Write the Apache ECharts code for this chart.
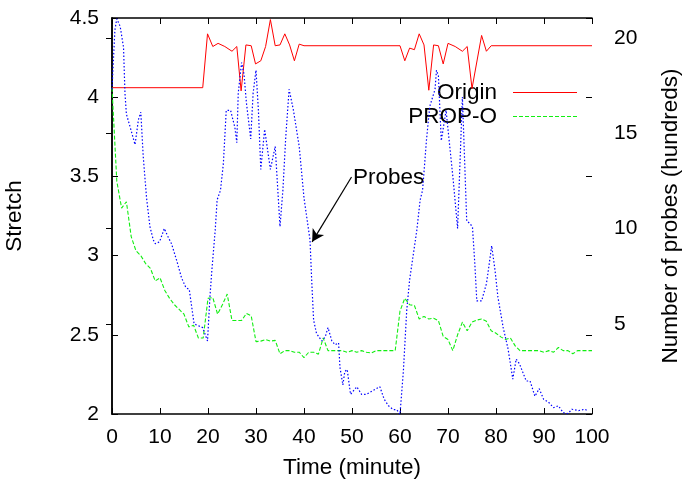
<!DOCTYPE html>
<html>
<head>
<meta charset="utf-8">
<script src="https://cdn.jsdelivr.net/npm/echarts@6/dist/echarts.min.js"></script>
<style>
  html, body { margin: 0; padding: 0; background: #fff; }
  #chart { width: 689px; height: 487px; }
</style>
</head>
<body>
<div id="chart"></div>
<script>
// tick labels
const stretchTicks = [2, 2.5, 3, 3.5, 4, 4.5];
const probeTicks = [5, 10, 15, 20];

// Origin (stretch)
const originTime = [0, 18.9, 19.9, 21, 22.1, 23.5, 25, 26, 26.9, 27.9, 29, 29.9, 31, 32, 33, 34, 35, 36, 37, 38,
  39, 40, 60, 61, 62, 63, 64, 65, 66, 67, 68, 69, 70, 71.5, 73, 74, 75, 77, 78, 79, 100];
const originStretch = [4.06, 4.06, 4.40, 4.32, 4.34, 4.32, 4.29, 4.32, 4.04, 4.33, 4.325, 4.21, 4.23, 4.32, 4.49, 4.325, 4.33, 4.40, 4.33, 4.23,
  4.335, 4.325, 4.325, 4.23, 4.31, 4.30, 4.40, 4.33, 4.044, 4.33, 4.325, 4.21, 4.34, 4.32, 4.29, 4.32, 4.055, 4.39, 4.29, 4.325, 4.325];

// PROP-O (stretch), one sample per minute 0..100
const propMinutes = Array.from({ length: 101 }, (_, i) => i);
const propStretch = [
  4.06, 3.47, 3.30, 3.34, 3.12, 3.03, 3.00, 2.95, 2.92, 2.84,
  2.86, 2.78, 2.73, 2.69, 2.66, 2.63, 2.55, 2.56, 2.48, 2.48,
  2.73, 2.735, 2.63, 2.69, 2.757, 2.59, 2.59, 2.59, 2.635, 2.62,
  2.457, 2.46, 2.47, 2.46, 2.465, 2.38, 2.40, 2.40, 2.39, 2.39,
  2.356, 2.39, 2.39, 2.378, 2.48, 2.40, 2.40, 2.40, 2.40, 2.39,
  2.40, 2.39, 2.40, 2.39, 2.385, 2.40, 2.40, 2.40, 2.40, 2.40,
  2.65, 2.73, 2.69, 2.685, 2.60, 2.616, 2.60, 2.605, 2.59, 2.49,
  2.47, 2.40, 2.50, 2.58, 2.525, 2.58, 2.593, 2.60, 2.585, 2.525,
  2.51, 2.487, 2.47, 2.48, 2.43, 2.40, 2.40, 2.40, 2.40, 2.40,
  2.39, 2.40, 2.39, 2.42, 2.40, 2.40, 2.38, 2.40, 2.40, 2.40,
  2.40
];

// Probes (hundreds)
const probesTime = [0, 0.6, 1, 1.7, 2.4, 2.7, 3, 3.8, 4.8, 5.5, 6, 6.5, 7.2, 7.9, 8.6, 9, 9.9, 10.9, 11.6, 12.4,
  13.5, 14.5, 15.4, 16.1, 16.6, 17.1, 18, 18.9, 19.9, 20.4, 20.8, 21.5, 21.9, 22.6, 23.2, 23.8, 24.7, 25.6, 26, 26.3,
  27, 27.5, 28, 28.9, 29.4, 30, 30.5, 31, 31.8, 33, 34, 35, 35.6, 36.2, 36.9, 37.8, 39, 40, 41.25, 41.6,
  42, 42.6, 43.7, 44.4, 45, 45.8, 46.5, 47.2, 47.5, 48.1, 48.5, 49, 49.7, 51, 52, 53, 54.4, 55.8, 56.7, 57.6,
  58.6, 59.3, 60, 60.7, 61.4, 62, 63.5, 64.2, 64.7, 65.2, 65.5, 66.2, 67.3, 67.6, 68, 68.6, 69.6, 71.1, 72, 73,
  73.9, 74.6, 75.1, 75.6, 76, 77, 78, 78.4, 79.1, 79.8, 80.4, 81.5, 82.5, 83.5, 84.2, 84.9, 86.3, 87.1, 88.1, 89,
  89.9, 90.9, 92, 93, 94, 95, 95.8, 97.2, 98.5, 99];
const probesCount = [17.3, 20.4, 21.0, 20.6, 19.5, 17.1, 16.0, 15.3, 14.4, 15.7, 16.1, 13.8, 11.6, 10.1, 9.4, 9.2, 9.3, 10.0, 9.6, 9.2,
  8.3, 7.4, 6.9, 6.8, 5.9, 5.0, 4.9, 4.8, 4.1, 6.4, 7.8, 9.9, 11.5, 12.0, 13.4, 16.2, 16.2, 15.3, 14.5, 17.1,
  18.7, 18.1, 16.6, 14.7, 17.1, 18.3, 16.2, 13.1, 15.2, 13.1, 14.3, 10.1, 12.0, 14.8, 17.3, 16.2, 14.3, 11.6, 9.4, 7.3,
  5.2, 4.5, 4.1, 4.3, 4.8, 4.1, 3.9, 4.0, 2.7, 1.8, 2.5, 2.6, 1.3, 1.7, 1.3, 1.3, 1.5, 1.7, 1.05, 0.7,
  0.5, 0.5, 0.26, 2.5, 5.7, 7.3, 9.9, 11.5, 12.0, 13.6, 14.6, 16.4, 17.3, 18.3, 18.0, 14.6, 16.2, 12.5, 10.0, 16.9,
  10.4, 10.25, 10.07, 8.1, 6.2, 6.2, 7.1, 7.8, 9.1, 7.8, 6.4, 4.8, 3.7, 2.1, 3.15, 2.9, 2.0, 2.0, 1.2, 1.6,
  1.05, 0.9, 0.6, 0.7, 0.34, 0.29, 0.52, 0.45, 0.52, 0.45];

const FONT = '"Liberation Sans", Arial, sans-serif';
const zip = (xs, ys) => xs.map((x, i) => [x, ys[i]]);

const chart = echarts.init(document.getElementById('chart'), null, { renderer: 'canvas' });

const axisLine = { show: true, lineStyle: { color: '#000', width: 1.5 } };
const tickIn = { show: true, inside: true, length: 6, lineStyle: { color: '#000', width: 1 } };
const tickLabel = { color: '#000', fontFamily: FONT, fontSize: 21 };
const titleText = { color: '#000', fontFamily: FONT, fontSize: 22.5 };

chart.setOption({
  animation: false,
  backgroundColor: '#fff',
  grid: { left: 112, right: 97, top: 18, bottom: 73, containLabel: false, outerBoundsMode: 'none' },
  xAxis: [
    {
      type: 'value', min: 0, max: 100, interval: 10, position: 'bottom',
      name: 'Time (minute)', nameLocation: 'middle', nameGap: 42,
      nameTextStyle: titleText,
      axisLine, axisTick: tickIn,
      axisLabel: { ...tickLabel, margin: 13 },
      splitLine: { show: false }
    },
    {
      type: 'value', min: 0, max: 100, interval: 10, position: 'top',
      axisLine, axisTick: tickIn, axisLabel: { show: false }, splitLine: { show: false }
    }
  ],
  yAxis: [
    {
      type: 'value', min: stretchTicks[0], max: stretchTicks[stretchTicks.length - 1], interval: 0.5, position: 'left',
      name: 'Stretch', nameLocation: 'middle', nameGap: 86, nameRotate: 90,
      nameTextStyle: titleText,
      axisLine, axisTick: tickIn,
      axisLabel: { ...tickLabel, margin: 13 },
      splitLine: { show: false }
    },
    {
      type: 'value', min: 0.27, max: 21.04, position: 'right',
      name: 'Number of probes (hundreds)', nameLocation: 'middle', nameGap: 67, nameRotate: 90,
      nameTextStyle: titleText,
      axisLine,
      axisTick: { ...tickIn, customValues: probeTicks },
      axisLabel: { ...tickLabel, margin: 22, customValues: probeTicks },
      splitLine: { show: false }
    },
    {
      type: 'value', min: stretchTicks[0], max: stretchTicks[stretchTicks.length - 1], interval: 0.5, position: 'right',
      axisLine: { show: false }, axisTick: tickIn, axisLabel: { show: false }, splitLine: { show: false }
    }
  ],
  graphic: [
    { type: 'text', x: 497, y: 93, style: { text: 'Origin', align: 'right', verticalAlign: 'middle', font: '22.5px ' + FONT, fill: '#000' } },
    { type: 'line', shape: { x1: 513, y1: 92.5, x2: 577, y2: 92.5 }, style: { stroke: '#ff0000', lineWidth: 1 } },
    { type: 'text', x: 497, y: 117, style: { text: 'PROP-O', align: 'right', verticalAlign: 'middle', font: '22.5px ' + FONT, fill: '#000' } },
    { type: 'line', shape: { x1: 513, y1: 116.5, x2: 577, y2: 116.5 }, style: { stroke: '#11ee11', lineWidth: 1, lineDash: [4, 2] } },
    { type: 'text', x: 353, y: 178, style: { text: 'Probes', align: 'left', verticalAlign: 'middle', font: '22.5px ' + FONT, fill: '#000' } }
  ],
  series: [
    {
      name: 'Origin', type: 'line', xAxisIndex: 0, yAxisIndex: 0,
      data: zip(originTime, originStretch),
      symbol: 'none', lineStyle: { color: '#ff0000', width: 1 }, z: 3
    },
    {
      name: 'PROP-O', type: 'line', xAxisIndex: 0, yAxisIndex: 0,
      data: zip(propMinutes, propStretch),
      symbol: 'none', lineStyle: { color: '#11ee11', width: 1.1, type: [4, 2] }, z: 3
    },
    {
      name: 'Probes', type: 'line', xAxisIndex: 0, yAxisIndex: 1,
      data: zip(probesTime, probesCount),
      symbol: 'none', lineStyle: { color: '#0000ff', width: 1.2, type: [1.5, 2] }, z: 3,
      markLine: {
        silent: true, symbol: ['none', 'arrow'], symbolSize: [10, 12],
        label: { show: false },
        lineStyle: { color: '#000', width: 1.2, type: 'solid' },
        data: [[{ coord: [49.9, 12.7] }, { coord: [41.7, 9.3] }]]
      }
    }
  ]
});
</script>
</body>
</html>
